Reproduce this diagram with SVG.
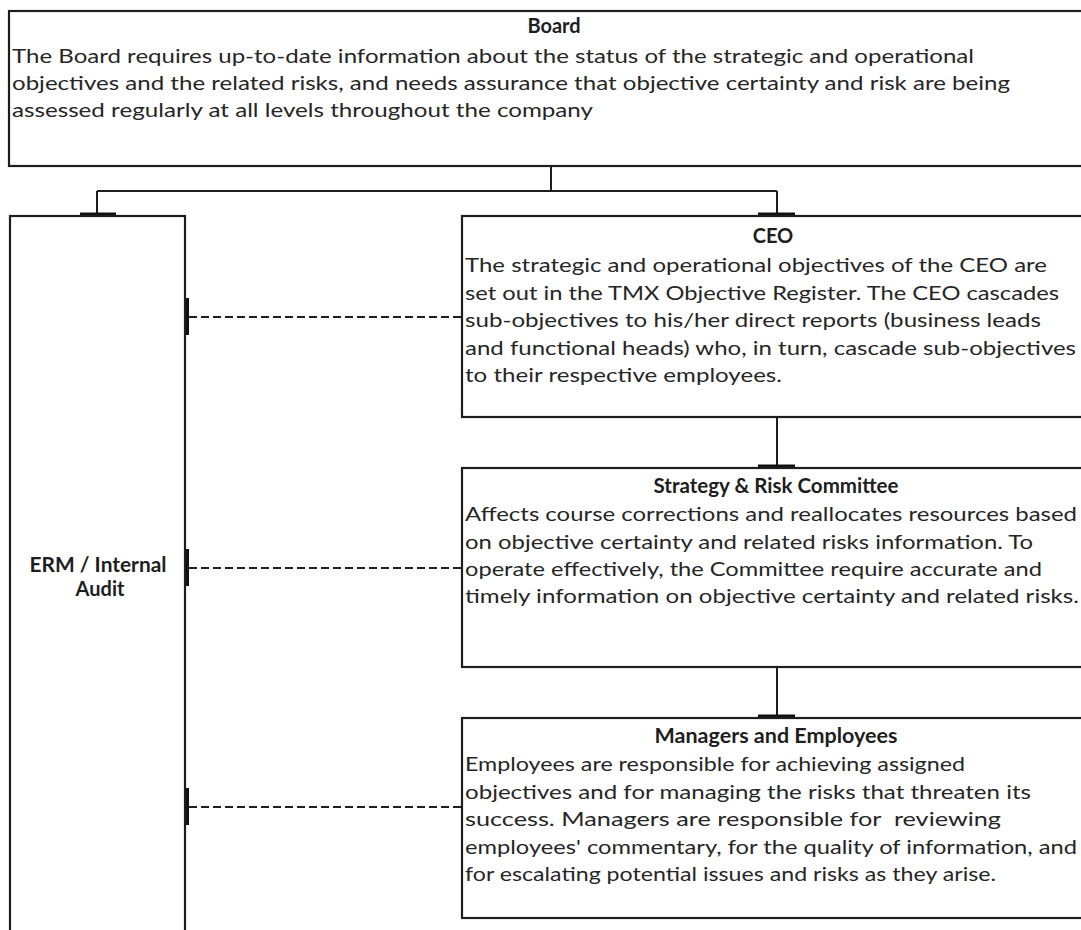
<svg xmlns="http://www.w3.org/2000/svg" width="1081" height="930" viewBox="0 0 1081 930">
<style>
.box{fill:#fff;stroke:#1e1e1e;stroke-width:2.2}
.t{font-family:Lato,"Liberation Sans",sans-serif;font-size:20px;fill:#262626}
.h{font-family:Lato,"Liberation Sans",sans-serif;font-size:20px;font-weight:bold;fill:#1e1e1e}
.ln{stroke:#1e1e1e;stroke-width:2;fill:none}
.dash{stroke:#1e1e1e;stroke-width:2;fill:none;stroke-dasharray:8 4}
.bar{fill:#111}
</style>
<rect width="1081" height="930" fill="#fff"/>
<g id="connectors">
<path class="ln" d="M551 166V191M97 191H777M97 191V216M777 191V216"/>
<rect class="bar" x="80" y="212.5" width="36" height="4"/>
<rect class="bar" x="758" y="212.5" width="37" height="4"/>
<path class="ln" d="M777 417V468"/>
<rect class="bar" x="758" y="464.5" width="37" height="4"/>
<path class="ln" d="M777 667V718"/>
<rect class="bar" x="758" y="714.5" width="37" height="4"/>
<path class="dash" d="M189 317H462M189 568H462M189 807H462"/>
<rect class="bar" x="185" y="298" width="4" height="37"/>
<rect class="bar" x="185" y="549" width="4" height="37"/>
<rect class="bar" x="185" y="788" width="4" height="37"/>
</g>
<g id="board">
<rect class="box" x="9" y="11" width="1090" height="155"/>
<text class="h" x="554" y="33" text-anchor="middle">Board</text>
<text class="t" x="12" y="63" textLength="962" lengthAdjust="spacingAndGlyphs">The Board requires up-to-date information about the status of the strategic and operational</text>
<text class="t" x="12" y="90" textLength="998" lengthAdjust="spacingAndGlyphs">objectives and the related risks, and needs assurance that objective certainty and risk are being</text>
<text class="t" x="12" y="117" textLength="581" lengthAdjust="spacingAndGlyphs">assessed regularly at all levels throughout the company</text>
</g>
<g id="erm">
<rect class="box" x="10" y="216" width="175" height="730"/>
<text class="h" x="98" y="572" text-anchor="middle" textLength="137" lengthAdjust="spacingAndGlyphs">ERM / Internal</text>
<text class="h" x="100" y="596" text-anchor="middle">Audit</text>
</g>
<g id="ceo">
<rect class="box" x="462" y="216" width="640" height="201"/>
<text class="h" x="773" y="243" text-anchor="middle">CEO</text>
<text class="t" x="465" y="272" textLength="582" lengthAdjust="spacingAndGlyphs">The strategic and operational objectives of the CEO are</text>
<text class="t" x="465" y="300" textLength="594" lengthAdjust="spacingAndGlyphs">set out in the TMX Objective Register. The CEO cascades</text>
<text class="t" x="465" y="327" textLength="576" lengthAdjust="spacingAndGlyphs">sub-objectives to his/her direct reports (business leads</text>
<text class="t" x="465" y="355" textLength="611" lengthAdjust="spacingAndGlyphs">and functional heads) who, in turn, cascade sub-objectives</text>
<text class="t" x="465" y="382" textLength="317" lengthAdjust="spacingAndGlyphs">to their respective employees.</text>
</g>
<g id="strategy">
<rect class="box" x="462" y="468" width="640" height="199"/>
<text class="h" x="776" y="493" text-anchor="middle" textLength="245" lengthAdjust="spacingAndGlyphs">Strategy &amp; Risk Committee</text>
<text class="t" x="465" y="521" textLength="612" lengthAdjust="spacingAndGlyphs">Affects course corrections and reallocates resources based</text>
<text class="t" x="465" y="549" textLength="568" lengthAdjust="spacingAndGlyphs">on objective certainty and related risks information. To</text>
<text class="t" x="465" y="576" textLength="577" lengthAdjust="spacingAndGlyphs">operate effectively, the Committee require accurate and</text>
<text class="t" x="465" y="603" textLength="614" lengthAdjust="spacingAndGlyphs">timely information on objective certainty and related risks.</text>
</g>
<g id="managers">
<rect class="box" x="462" y="718" width="640" height="200"/>
<text class="h" x="776" y="743" text-anchor="middle" textLength="243" lengthAdjust="spacingAndGlyphs">Managers and Employees</text>
<text class="t" x="465" y="771" textLength="500" lengthAdjust="spacingAndGlyphs">Employees are responsible for achieving assigned</text>
<text class="t" x="465" y="799" textLength="566" lengthAdjust="spacingAndGlyphs">objectives and for managing the risks that threaten its</text>
<text class="t" x="465" y="826" textLength="536" lengthAdjust="spacingAndGlyphs" xml:space="preserve">success. Managers are responsible for  reviewing</text>
<text class="t" x="465" y="854" textLength="612" lengthAdjust="spacingAndGlyphs">employees' commentary, for the quality of information, and</text>
<text class="t" x="465" y="881" textLength="531" lengthAdjust="spacingAndGlyphs">for escalating potential issues and risks as they arise.</text>
</g>
</svg>
